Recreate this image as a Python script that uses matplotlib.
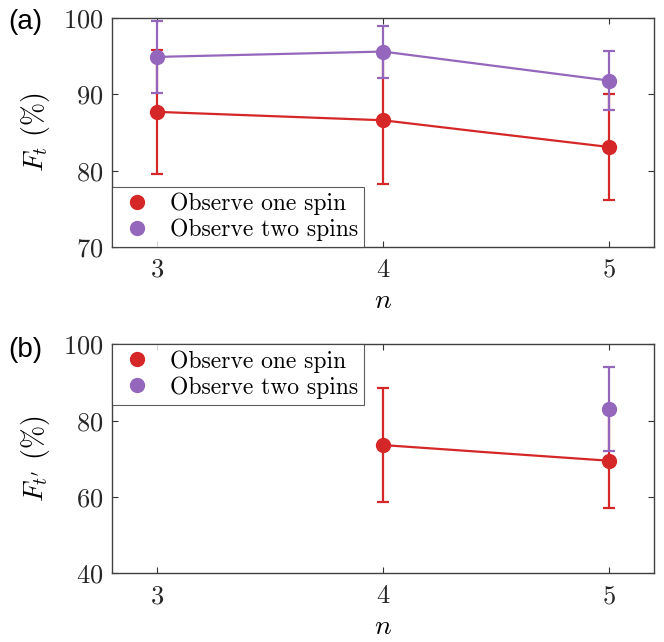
import matplotlib
matplotlib.use("Agg")
import matplotlib.pyplot as plt
from matplotlib.lines import Line2D

plt.rcParams['font.family'] = 'serif'
plt.rcParams['font.serif'] = ['cmr10']
plt.rcParams['mathtext.fontset'] = 'cm'
plt.rcParams['axes.formatter.use_mathtext'] = True

red = '#d62728'
purple = '#9467bd'

# panel (a): F_t
n_a = [3, 4, 5]
one_a = [87.7, 86.6, 83.1]
one_a_err = [8.1, 8.4, 6.9]
two_a = [94.9, 95.6, 91.8]
two_a_err = [4.7, 3.4, 3.9]

# panel (b): F_t'
n_b_one = [4, 5]
one_b = [73.6, 69.5]
one_b_err = [15.0, 12.4]
n_b_two = [5]
two_b = [83.0]
two_b_err = [11.0]

labels = ['Observe one spin', 'Observe two spins']

fig = plt.figure(figsize=(6.64, 6.42), dpi=100)
ax1 = fig.add_axes([0.1687, 0.6153, 0.8163, 0.3567])
ax2 = fig.add_axes([0.1687, 0.107, 0.8163, 0.3567])

def draw(ax, xs1, ys1, es1, xs2, ys2, es2):
    kw = dict(fmt='o-', ms=10, lw=1.6, elinewidth=1.6, capsize=4.5, capthick=1.6)
    ax.errorbar(xs1, ys1, yerr=es1, color=red, **kw)
    ax.errorbar(xs2, ys2, yerr=es2, color=purple, **kw)
    ax.set_xlim(2.8, 5.2)
    ax.set_xticks([3, 4, 5])
    ax.tick_params(direction='in', top=True, right=True, labelsize=19,
                   length=4, color='0.2', labelcolor='0.15')
    ax.tick_params(axis='x', pad=8)
    ax.tick_params(axis='y', pad=6)
    for s in ax.spines.values():
        s.set_color('0.25')
        s.set_linewidth(1.0)
    ax.set_xlabel('$n$', fontsize=20, labelpad=4)

draw(ax1, n_a, one_a, one_a_err, n_a, two_a, two_a_err)
ax1.set_ylim(70, 100)
ax1.set_yticks([70, 80, 90, 100])
ax1.set_ylabel('$F_t$ (%)', fontsize=20, labelpad=8)

draw(ax2, n_b_one, one_b, one_b_err, n_b_two, two_b, two_b_err)
ax2.set_ylim(40, 100)
ax2.set_yticks([40, 60, 80, 100])
ax2.set_ylabel("$F_{t'}$ (%)", fontsize=20, labelpad=8)

handles = [Line2D([], [], ls='none', marker='o', ms=10, color=red),
           Line2D([], [], ls='none', marker='o', ms=10, color=purple)]
for ax, loc in [(ax1, 'lower left'), (ax2, 'upper left')]:
    leg = ax.legend(handles, labels, loc=loc, fontsize=17, frameon=True,
                    fancybox=False, edgecolor='0.2', borderaxespad=0,
                    handletextpad=0.6, borderpad=0.25, labelspacing=0.15,
                    handlelength=1.6)
    leg.get_frame().set_linewidth(0.8)

fig.text(0.012, 0.965, '(a)', fontsize=20, family='Liberation Sans', va='center')
fig.text(0.012, 0.455, '(b)', fontsize=20, family='Liberation Sans', va='center')

fig.savefig('out.png', dpi=100)
